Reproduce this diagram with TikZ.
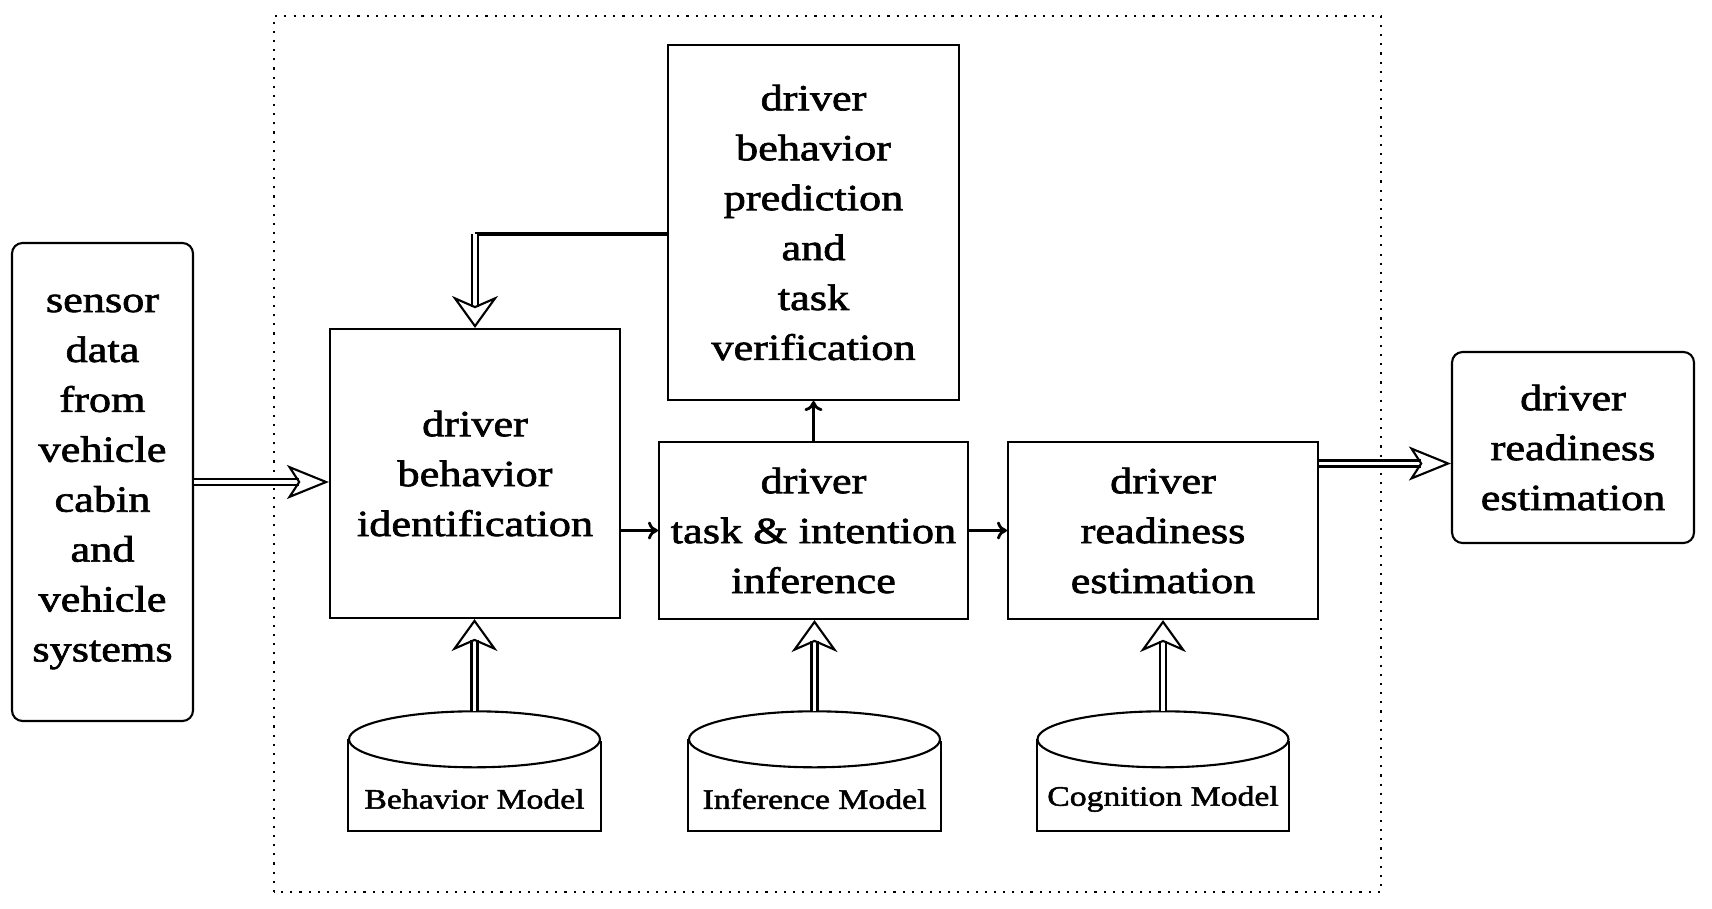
\documentclass[tikz,border=0pt]{standalone}
\usepackage{fontspec}
\setmainfont{Liberation Serif}[FakeStretch=1.2,FakeBold=1.8]
\usetikzlibrary{arrows.meta,positioning}
\tikzset{
    block/.style={rectangle, draw, line width=0.6pt, align=center,
        inner sep=2pt, font=\fontsize{10.5}{14.2}\selectfont},
    rblock/.style={block, rounded corners=3pt},
    dbase/.style={rectangle, minimum width=2.51cm, minimum height=0.62cm,
        inner sep=0pt, font=\fontsize{8}{10}\selectfont},
    hollow/.style={double, double distance=1.1pt, line width=0.6pt,
        -{Stealth[open, length=4.2mm, width=3.4mm, inset=1.1mm]}},
    hollowup/.style={hollow, -{Stealth[open, length=3.2mm, width=4.6mm, inset=1mm]}},
    flow/.style={-{To[length=1mm,width=1.8mm]}, line width=0.8pt}
}
\begin{document}
\begin{tikzpicture}[x=1cm,y=1cm]
    \useasboundingbox (0,0) rectangle (17.12,9.08);
    \draw[dotted, line width=0.6pt] (2.74,0.16) rectangle (13.81,8.92);
    \node[rblock,minimum width=1.81cm,minimum height=4.78cm] at (1.025,4.26) (sensor) {sensor\\data\\from\\vehicle\\cabin\\and\\vehicle\\systems};
    \node[block,minimum width=2.90cm,minimum height=2.89cm] at (4.75,4.345) (ident) {driver\\behavior\\identification};
    \node[block,minimum width=2.91cm,minimum height=3.55cm] at (8.135,6.855) (predict) {driver\\behavior\\prediction\\and\\task\\verification};
    \node[block,minimum width=3.09cm,minimum height=1.77cm] at (8.135,3.775) (infer) {driver\\task \& intention\\inference};
    \node[block,minimum width=3.10cm,minimum height=1.77cm] at (11.63,3.775) (ready) {driver\\readiness\\estimation};
    \node[rblock,minimum width=2.42cm,minimum height=1.91cm] at (15.73,4.605) (output) {driver\\readiness\\estimation};
    \node[dbase] at (4.745,1.09) (bmodel) {Behavior Model};
    \node[dbase] at (8.145,1.09) (imodel) {Inference Model};
    \node[dbase] at (11.63,1.09) (cmodel) {Cognition Model};
    \foreach \m in {bmodel,imodel,cmodel}{
        \draw[line width=0.6pt] ([yshift=2.8mm]\m.north west) |- (\m.south east) -- ++(0,0.9);
        \draw[line width=0.6pt] ([yshift=2.8mm]\m.north) ellipse [x radius=1.255, y radius=0.28];
        \coordinate (\m-top) at ([yshift=5.6mm]\m.north);
    }
    \draw[hollow] (sensor.east) -- (sensor.east -| ident.west);
    \draw[line width=0.9pt] ([yshift=-1.15mm]predict.west) -- ([yshift=-1.15mm]predict.west -| ident.north) coordinate (fb);
    \draw[hollowup] (fb) -- (ident.north);
    \draw[flow] (ident.east |- infer) -- (infer);
    \draw[flow] (infer) -- (predict);
    \draw[flow] (infer) -- (ready);
    \draw[hollow] ([yshift=6.7mm]ready.east) -- ([yshift=6.7mm]ready.east -| output.west);
    \foreach \m/\b in {bmodel/ident,imodel/infer,cmodel/ready}
        \draw[hollowup] (\m-top) -- (\m-top |- \b.south);
\end{tikzpicture}
\end{document}
